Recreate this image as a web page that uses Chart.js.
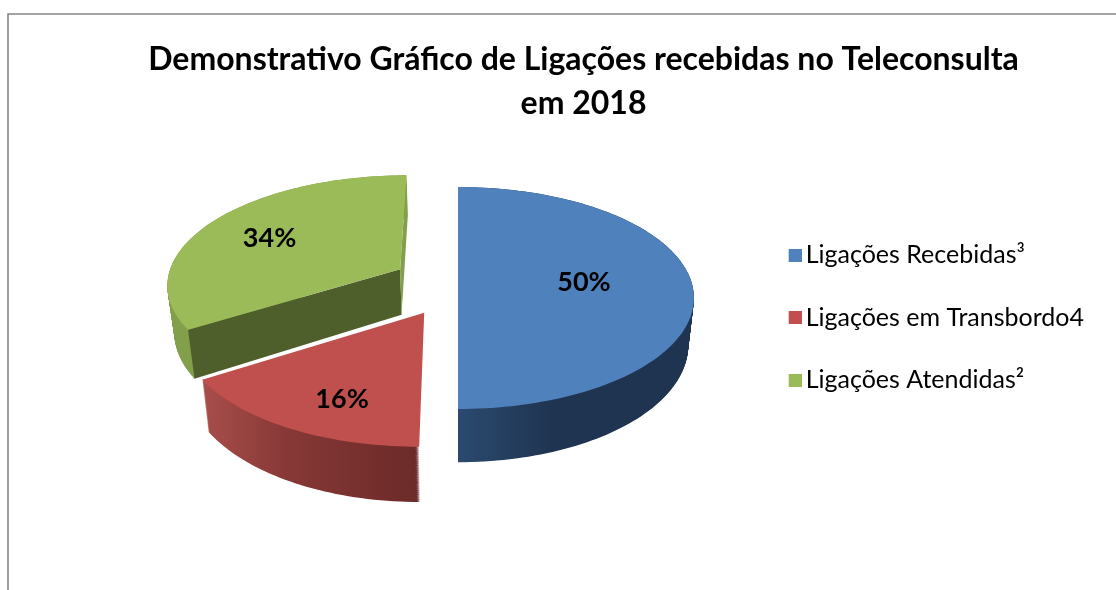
<!DOCTYPE html>
<html lang="pt">
<head>
<meta charset="utf-8">
<style>
html,body{margin:0;padding:0;background:#fff;overflow:hidden}
#wrap{position:relative;width:1116px;height:590px}
</style>
<script src="https://cdn.jsdelivr.net/npm/chart.js@4/dist/chart.umd.js"></script>
</head>
<body>
<div id="wrap"><canvas id="c"></canvas></div>
<script>
const titleLines = ["Demonstrativo Gráfico de Ligações recebidas no Teleconsulta", "em 2018"];
const categories = ["Ligações Recebidas³", "Ligações em Transbordo4", "Ligações Atendidas²"];
const values = [50, 16, 34];
const colors = ["#4f81bd", "#c0504d", "#9bbb59"];
const explode = [0, 0.29, 0.287];
const wallStops = [["#2b4a70", "#1f3450", "#1f3450"], ["#a84e4b", "#863836", "#6b2a28"], ["#82a04c", "#82a04c", "#82a04c"]];
const cutColors = [null, null, "#4f5f2c"];
const labelRadius = [0.54, 0.742, 0.673];
const labelFraction = [0.49, 0.41, 0.486];

// Perspective camera fitted to the tilted disc
const CAM = {vx: 458, vy: -580, bx: 234, ay: 864, p: 0.1264, depth: 46.5, shrink: 0.024};
function project(x, y, z) {
  const s = 1 / (1 - CAM.p * y);
  return [CAM.vx + CAM.bx * x * s * (1 - z * CAM.shrink), CAM.vy + (CAM.ay + z * CAM.depth) * s];
}

class Arc3D extends Chart.ArcElement {
  local(angle, r) {
    const mid = (this.startAngle + this.endAngle) / 2, e = explode[this.sliceIndex];
    return [Math.cos(mid) * e + Math.cos(angle) * r, Math.sin(mid) * e + Math.sin(angle) * r];
  }
  rim(z) {
    const n = Math.max(8, Math.ceil((this.endAngle - this.startAngle) * 40)), pts = [];
    for (let k = 0; k <= n; k++) {
      const a = this.startAngle + (this.endAngle - this.startAngle) * k / n;
      const l = this.local(a, 1);
      pts.push(project(l[0], l[1], z));
    }
    return pts;
  }
  draw(ctx) {
    const i = this.sliceIndex, top = this.rim(0), bot = this.rim(1);
    const t = this.local(0, 0), tipT = project(t[0], t[1], 0), tipB = project(t[0], t[1], 1);
    const xs = top.map(p => p[0]);
    const g = ctx.createLinearGradient(Math.min(...xs), 0, Math.max(...xs), 0);
    const stops = wallStops[i];
    g.addColorStop(0, stops[0]); g.addColorStop(0.4, stops[1]); g.addColorStop(1, stops[2]);
    ctx.save();
    // outer wall: the closed rim swept from its lower edge up to its upper edge
    ctx.fillStyle = g;
    for (let z = 1; z > 0; z -= 1 / 80) {
      ctx.beginPath();
      this.rim(z).forEach((p, k) => k ? ctx.lineTo(p[0], p[1]) : ctx.moveTo(p[0], p[1]));
      ctx.closePath();
      ctx.fill();
    }
    // radial cut faces
    const faces = [[top[0], bot[0], cutColors[i]], [top[top.length - 1], bot[bot.length - 1], i === 2 ? "#82a04c" : null]];
    faces.forEach(f => {
      if (!f[2]) return;
      ctx.fillStyle = f[2];
      ctx.beginPath();
      ctx.moveTo(tipT[0], tipT[1]); ctx.lineTo(f[0][0], f[0][1]);
      ctx.lineTo(f[1][0], f[1][1]); ctx.lineTo(tipB[0], tipB[1]);
      ctx.closePath(); ctx.fill();
    });
    // top face
    ctx.fillStyle = this.options.backgroundColor;
    ctx.beginPath();
    ctx.moveTo(tipT[0], tipT[1]);
    top.forEach(p => ctx.lineTo(p[0], p[1]));
    ctx.closePath(); ctx.fill();
    ctx.restore();
  }
  labelPoint() {
    const i = this.sliceIndex;
    const a = this.startAngle + (this.endAngle - this.startAngle) * labelFraction[i];
    const l = this.local(a, labelRadius[i]);
    return project(l[0], l[1], 0);
  }
}
Arc3D.id = "arc3d";
Arc3D.defaults = Chart.ArcElement.defaults;

class Pie3D extends Chart.PieController {
  draw() {
    const els = this._cachedMeta.data, ctx = this.chart.ctx;
    els.forEach((el, i) => { el.sliceIndex = i; });
    [2, 1, 0].forEach(i => els[i].draw(ctx));
  }
}
Pie3D.id = "pie3d";
Pie3D.defaults = {dataElementType: "arc3d"};
Chart.register(Arc3D, Pie3D);

function swatch(color) {
  const s = document.createElement("canvas");
  s.width = 17; s.height = 13;
  const x = s.getContext("2d");
  x.fillStyle = color; x.fillRect(4, 0, 13, 13);
  return s;
}
const baseLabels = Chart.PieController.overrides.plugins.legend.labels.generateLabels;

const frame = {
  id: "frame",
  beforeDraw(chart) {
    const c = chart.ctx;
    c.save(); c.strokeStyle = "#868686"; c.lineWidth = 1.6;
    c.beginPath(); c.moveTo(8, 590); c.lineTo(8, 14); c.lineTo(1116, 14); c.stroke();
    c.restore();
  }
};
const pctLabels = {
  id: "pctLabels",
  afterDatasetsDraw(chart) {
    const c = chart.ctx, total = values.reduce((a, b) => a + b, 0);
    c.save();
    c.font = "bold 27px Lato"; c.fillStyle = "#000"; c.textAlign = "center"; c.textBaseline = "middle";
    chart.getDatasetMeta(0).data.forEach((el, i) => {
      const p = el.labelPoint();
      c.fillText(Math.round(values[i] / total * 100) + "%", p[0], p[1]);
    });
    c.restore();
  }
};

new Chart(document.getElementById("c"), {
  type: "pie3d",
  data: {labels: categories, datasets: [{data: values, backgroundColor: colors, borderWidth: 0, clip: false}]},
  options: {
    responsive: true, maintainAspectRatio: false, animation: false,
    layout: {padding: {left: 73, right: 22, top: 30, bottom: -15}},
    plugins: {
      tooltip: {enabled: false},
      title: {display: true, text: titleLines, color: "#000", align: "center",
        font: {family: "Lato", weight: "bold", size: 32, lineHeight: 44 / 32}, padding: {top: 8, bottom: 6}},
      legend: {position: "right", align: "center",
        labels: {color: "#000", boxWidth: 13, boxHeight: 13, padding: 37.5, usePointStyle: true, pointStyleWidth: 0.01,
          font: {family: "Lato", size: 25},
          generateLabels(chart) {
            return baseLabels(chart).map((it, i) => Object.assign(it, {pointStyle: swatch(colors[i])}));
          }}}
    }
  },
  plugins: [frame, pctLabels]
});
</script>
</body>
</html>
